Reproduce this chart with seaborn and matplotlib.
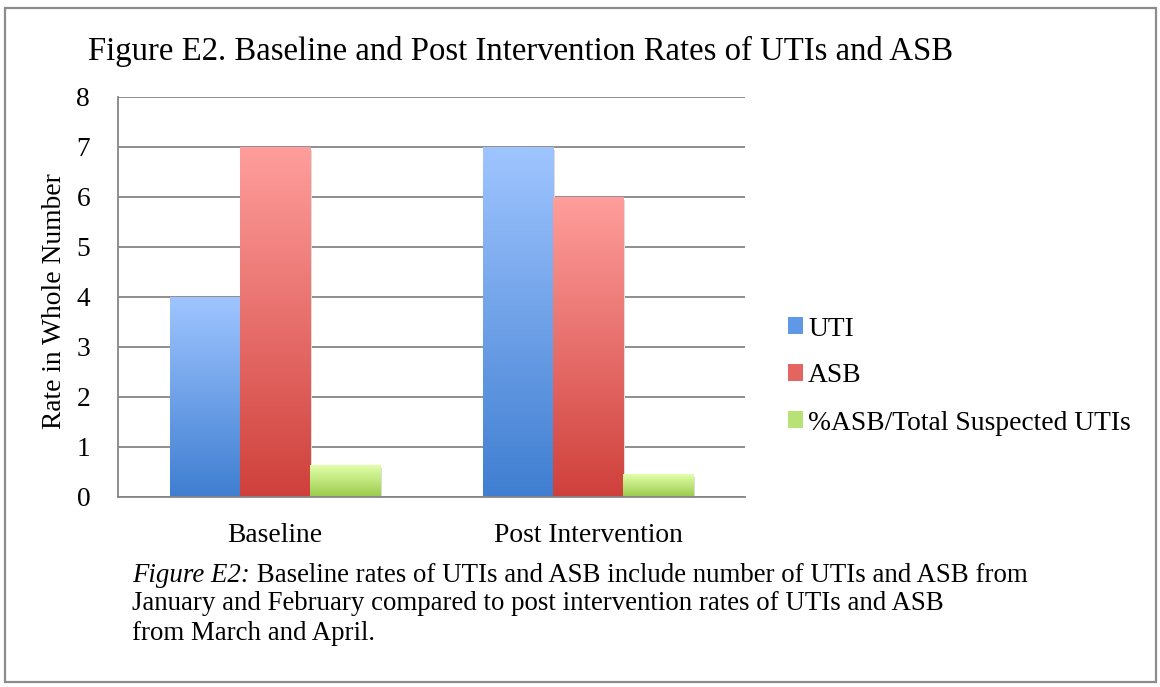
import numpy as np
import pandas as pd
import matplotlib
matplotlib.use('Agg')
import matplotlib.pyplot as plt
import seaborn as sns
from matplotlib.colors import LinearSegmentedColormap
from matplotlib.patches import Rectangle, Patch

# data
categories = ['Baseline', 'Post Intervention']
series = ['UTI', 'ASB', '%ASB/Total Suspected UTIs']
uti = [4, 7]
asb = [7, 6]
pct_asb = [0.63, 0.45]

# gradient colours per series (top, bottom, legend)
top_colors = ['#9fc5ff', '#ff9e9c', '#e2ffaa']
bottom_colors = ['#3f7ed1', '#cf403b', '#9acb4a']
legend_colors = ['#5f98e6', '#e46560', '#b9e276']

df = pd.DataFrame({
    'category': categories * 3,
    'series': [s for s in series for _ in categories],
    'value': uti + asb + pct_asb,
})

sns.set_style('white')
plt.rcParams['font.family'] = ['Liberation Serif', 'DejaVu Serif']
plt.rcParams['text.color'] = 'black'
plt.rcParams['xtick.labelcolor'] = 'black'
plt.rcParams['ytick.labelcolor'] = 'black'
FS = 19.8
GRAY = '#868686'

W, H = 1160, 687
fig = plt.figure(figsize=(W / 100, H / 100), dpi=100)
ax = fig.add_axes([118 / W, 1 - 497 / H, (745 - 118) / W, (497 - 97) / H])

sns.barplot(data=df, x='category', y='value', hue='series', hue_order=series,
            order=categories, width=0.67, gap=0, saturation=1, legend=False, ax=ax)

# replace flat bars with vertical gradients (light top, dark bottom)
grad = np.linspace(0, 1, 256).reshape(-1, 1)
for i, cont in enumerate(ax.containers):
    cmap = LinearSegmentedColormap.from_list(f'g{i}', [bottom_colors[i], top_colors[i]])
    for bar in cont:
        x0, y0 = bar.get_x(), bar.get_y()
        w, h = bar.get_width(), bar.get_height()
        ax.imshow(grad, cmap=cmap, origin='lower', extent=[x0, x0 + w, y0, y0 + h],
                  aspect='auto', zorder=2, interpolation='bilinear')
        ax.add_patch(Rectangle((x0 + 0.006, y0 - 0.05), w, h, color='#dcdcdc', zorder=1.8, lw=0))
        bar.set_visible(False)

ax.set_xlim(-0.5, 1.5)
ax.set_ylim(0, 8)
ax.set_yticks(range(0, 9))
ax.yaxis.grid(True, color=GRAY, lw=1.3)
ax.set_axisbelow(True)

for side in ['top', 'right']:
    ax.spines[side].set_visible(False)
for side in ['left', 'bottom']:
    ax.spines[side].set_color(GRAY)
    ax.spines[side].set_linewidth(1.3)

ax.set_xticks([0, 1])
ax.set_xticklabels(categories)
ax.set_xticks([-0.5, 0.5, 1.5], minor=True)
ax.tick_params(axis='x', which='major', length=0, pad=19, labelsize=FS)
ax.tick_params(axis='x', which='minor', length=8, width=1.3, color=GRAY, direction='out')
ax.tick_params(axis='y', length=9, width=1.3, color=GRAY, direction='out', pad=11, labelsize=FS)
ax.set_xlabel('')
ax.set_ylabel('')

fig.text(55 / W, 1 - 301 / H, 'Rate in Whole Number', rotation=90, va='center', ha='center', fontsize=FS)
fig.text(88 / W, 1 - 51 / H, 'Figure E2. Baseline and Post Intervention Rates of UTIs and ASB',
         va='center', ha='left', fontsize=23.6)

handles = [Patch(facecolor=c, edgecolor='none') for c in legend_colors]
fig.legend(handles, series, loc='center left', bbox_to_anchor=(788 / W, 1 - 376 / H),
           frameon=False, fontsize=FS, handlelength=0.55, handleheight=0.55,
           handletextpad=0.18, labelspacing=0.8, borderaxespad=0, borderpad=0)

# caption with italic lead-in
CFS = 19.4
t = fig.text(132 / W, 1 - 576 / H, 'Figure E2:', style='italic', va='center', ha='left', fontsize=CFS)
fig.canvas.draw()
bb = t.get_window_extent(fig.canvas.get_renderer())
fig.text(bb.x1 / W, 1 - 576 / H,
         ' Baseline rates of UTIs and ASB include number of UTIs and ASB from',
         va='center', ha='left', fontsize=CFS)
fig.text(132 / W, 1 - 604 / H,
         'January and February compared to post intervention rates of UTIs and ASB',
         va='center', ha='left', fontsize=CFS)
fig.text(132 / W, 1 - 633 / H, 'from March and April.', va='center', ha='left', fontsize=CFS)

# outer frame
fig.patches.append(Rectangle((5 / W, 5 / H), 1151 / W, 674 / H, transform=fig.transFigure,
                             fill=False, edgecolor='#8c8c8c', lw=1.6))

fig.savefig('out.png', dpi=100)
